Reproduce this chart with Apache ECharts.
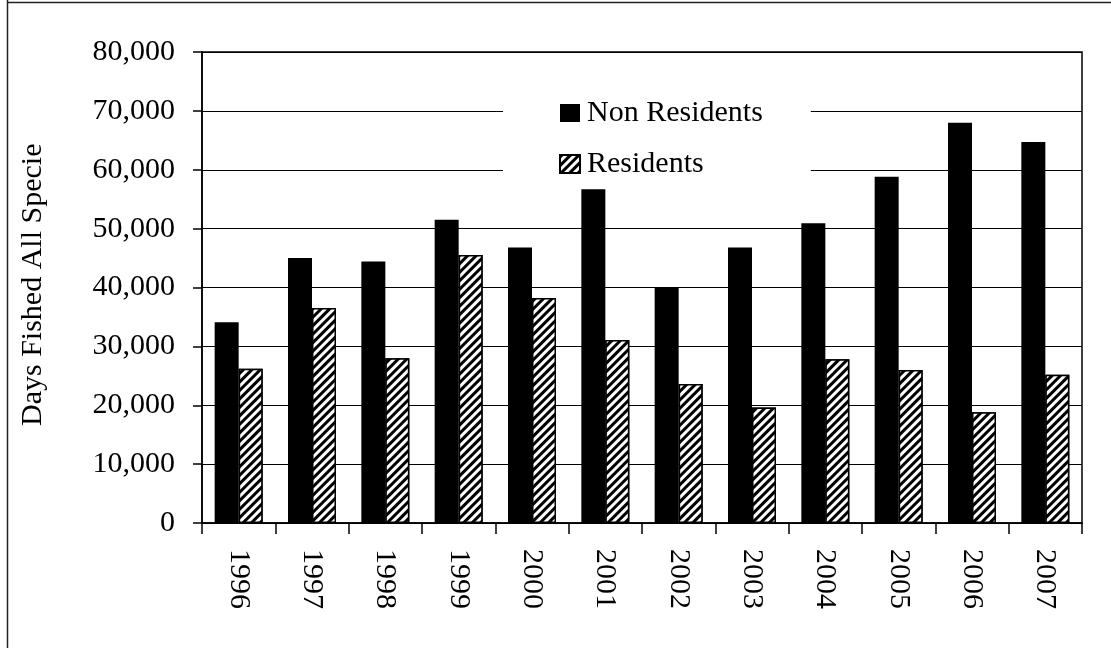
<!DOCTYPE html>
<html>
<head>
<meta charset="utf-8">
<title>Days Fished All Species</title>
<script src="https://cdn.jsdelivr.net/npm/echarts@6/dist/echarts.min.js"></script>
<style>
  html, body { margin: 0; padding: 0; background: #fff; }
  #chart { width: 1111px; height: 648px; }
</style>
</head>
<body>
<div id="chart"></div>
<script>
// Angler days by year, split by residency
const years = ['1996', '1997', '1998', '1999', '2000', '2001', '2002', '2003', '2004', '2005', '2006', '2007'];
const nonResidents = [34100, 45000, 44400, 51500, 46800, 56700, 39900, 46800, 50900, 58800, 68000, 64700];
const residents = [26200, 36500, 28000, 45500, 38200, 31100, 23600, 19600, 27800, 26000, 18800, 25200];
const seriesNames = ['Non Residents', 'Residents'];
const axisTitle = 'Days Fished All Species';

const serif = '"Liberation Serif", "Times New Roman", serif';

const chart = echarts.init(document.getElementById('chart'), null, { renderer: 'canvas' });

// diagonal "/" hatch used for the resident bars
const hatch = {
  symbol: 'rect',
  symbolSize: 1,
  color: '#000',
  backgroundColor: '#fff',
  dashArrayX: [1, 0],
  dashArrayY: [2.5, 2.5],
  rotation: -Math.PI / 4
};

chart.setOption({
  animation: false,
  backgroundColor: '#fff',
  grid: {
    left: 202, right: 29, top: 52, bottom: 125,
    show: true, borderColor: '#000', borderWidth: 1.5,
    containLabel: false
  },
  legend: {
    orient: 'vertical',
    left: 503, top: 84,
    padding: [14, 48, 6, 56],
    backgroundColor: '#fff',
    itemWidth: 20, itemHeight: 18,
    itemGap: 21,
    icon: 'rect',
    textStyle: { fontFamily: serif, fontSize: 30, color: '#000', padding: [0, 0, 0, 2] },
    data: seriesNames
  },
  xAxis: {
    type: 'category',
    data: years,
    axisLine: { lineStyle: { color: '#000', width: 1.5 } },
    axisTick: { show: true, alignWithLabel: false, length: 11, lineStyle: { color: '#000', width: 1.5 } },
    axisLabel: { rotate: -90, margin: 26, fontFamily: serif, fontSize: 30, color: '#000' },
    splitLine: { show: false }
  },
  yAxis: {
    type: 'value',
    min: 0, max: 80000, interval: 10000,
    axisLine: { show: true, lineStyle: { color: '#000', width: 1.5 } },
    axisTick: { show: true, length: 9, lineStyle: { color: '#000', width: 1.5 } },
    axisLabel: {
      margin: 27, fontFamily: serif, fontSize: 30, color: '#000',
      formatter: v => v.toLocaleString('en-US')
    },
    splitLine: { show: true, lineStyle: { color: '#000', width: 1 } }
  },
  series: [
    {
      name: seriesNames[0],
      type: 'bar',
      data: nonResidents,
      barWidth: 24,
      barGap: '0%',
      itemStyle: { color: '#000' }
    },
    {
      name: seriesNames[1],
      type: 'bar',
      data: residents,
      barWidth: 24,
      itemStyle: { color: '#fff', borderColor: '#000', borderWidth: 1.5, decal: hatch }
    }
  ],
  graphic: [
    // vertical axis title, cut short at the top like the original box
    {
      type: 'text',
      x: 33, y: 426,
      rotation: Math.PI / 2,
      style: {
        text: axisTitle,
        font: '30px ' + serif,
        fill: '#000',
        width: 292,
        overflow: 'truncate',
        ellipsis: '',
        align: 'left',
        verticalAlign: 'middle'
      }
    },
    // page frame on the left and top
    { type: 'line', shape: { x1: 7.5, y1: 0, x2: 7.5, y2: 648 }, style: { stroke: '#222', lineWidth: 1.5 } },
    { type: 'line', shape: { x1: 7, y1: 2.5, x2: 1111, y2: 2.5 }, style: { stroke: '#222', lineWidth: 1.5 } }
  ]
});
</script>
</body>
</html>
